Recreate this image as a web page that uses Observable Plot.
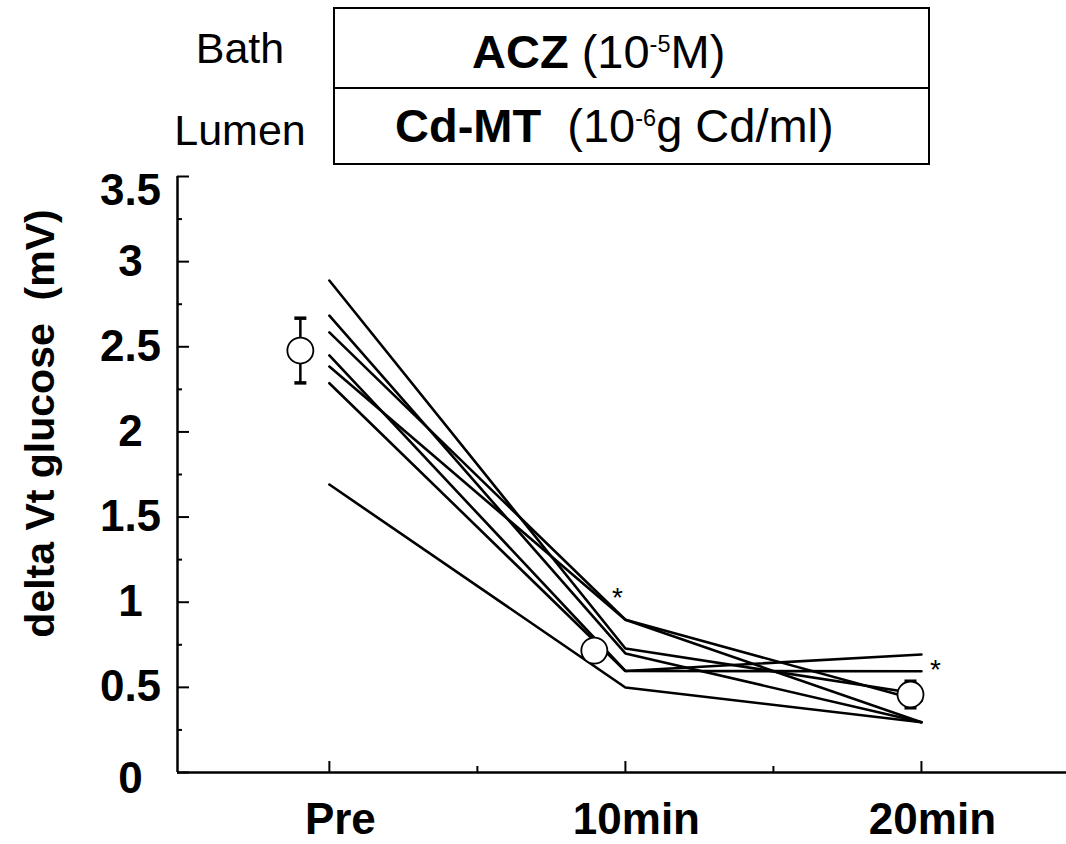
<!DOCTYPE html>
<html>
<head>
<meta charset="utf-8">
<script src="https://cdn.jsdelivr.net/npm/d3@7"></script>
<script src="https://cdn.jsdelivr.net/npm/@observablehq/plot@0.6"></script>
<style>
  body { margin: 0; background: #fff; font-family: "Liberation Sans", Arial, sans-serif; color: #000; }
  #wrap { width: 1066px; }
  #header { position: relative; width: 1066px; height: 165px; }
  .side { position: absolute; left: 150px; width: 180px; text-align: center; font-size: 43px; line-height: 1; }
  .box { position: absolute; left: 333px; width: 597px; border: 2px solid #000; box-sizing: border-box; }
  .boxtext { position: absolute; font-size: 47px; line-height: 1; white-space: nowrap; }
  .sup { font-size: 0.5em; vertical-align: 0.68em; }
  #chart svg { display: block; }
</style>
</head>
<body>
<div id="wrap">
  <div id="header">
    <div class="box" style="top:7px;height:82px;"></div>
    <div class="box" style="top:87px;height:78px;"></div>
    <div class="side" style="top:27px;">Bath</div>
    <div class="side" style="top:109px;">Lumen</div>
    <div class="boxtext" style="left:472px;top:28px;"><b>ACZ</b> (10<span class="sup">-5</span>M)</div>
    <div class="boxtext" style="left:395px;top:102px;"><b>Cd-MT</b>&nbsp; (10<span class="sup">-6</span>g Cd/ml)</div>
  </div>
  <div id="chart"></div>
</div>
<script>
// ---- data ----
const timeLabels = ["Pre", "10min", "20min"];
const timeIndex = [0, 1, 2];
const preValues   = [2.889, 2.683, 2.585, 2.449, 2.384, 2.286, 1.691];
const min10Values = [0.728, 0.699, 0.897, 0.596, 0.897, 0.596, 0.499];
const min20Values = [0.460, 0.295, 0.420, 0.693, 0.295, 0.595, 0.295];
const meanTime   = [-0.098, 0.895, 1.963];
const meanValues = [2.478, 0.716, 0.458];
const semValues  = [0.19, 0.04, 0.078];
const yTicks = [0, 0.5, 1, 1.5, 2, 2.5, 3, 3.5];
const yAxisLabel = "delta Vt glucose\u00a0 (mV)";
const starMark = "*";

// ---- tables built from the arrays ----
const seriesByTime = [preValues, min10Values, min20Values];
const lineRows = [];
preValues.forEach((_, id) => {
  timeIndex.forEach((t, k) => lineRows.push({id, t, v: seriesByTime[k][id]}));
});
const meanRows = meanValues.map((v, i) => ({t: meanTime[i], v, lo: v - semValues[i], hi: v + semValues[i]}));
const capRows = meanRows.flatMap(d => [{t: d.t, v: d.lo}, {t: d.t, v: d.hi}]);
const star10 = [{t: timeIndex[1], v: d3.max(min10Values)}];
const star20 = [{t: timeIndex[2], v: d3.max(min20Values)}];

const xDomain = [-0.513, 2.49];
const yDomain = [0, 3.5];
const yMinor = d3.range(0.25, 3.5, 0.5);
const xMinor = [0.5, 1.5];

const capSymbol = { draw(ctx) { ctx.moveTo(-6, 0); ctx.lineTo(6, 0); } };
const bold = "bold";

const chart = Plot.plot({
  width: 1066,
  height: 679,
  marginTop: 11,
  marginBottom: 72,
  marginLeft: 177,
  marginRight: 0,
  style: {fontFamily: "'Liberation Sans', Arial, sans-serif", color: "black", background: "white", overflow: "visible"},
  x: {domain: xDomain, axis: null},
  y: {domain: yDomain, axis: null},
  marks: [
    // axis lines
    Plot.ruleY([0], {stroke: "black", strokeWidth: 2.5}),
    Plot.ruleX([xDomain[0]], {y1: yDomain[0], y2: yDomain[1], stroke: "black", strokeWidth: 2.5}),
    // x ticks (inward)
    Plot.axisX({ticks: timeIndex, tickSize: -11, tickFormat: () => "", strokeWidth: 2, label: null}),
    Plot.axisX({ticks: xMinor, tickSize: -6, tickFormat: () => "", strokeWidth: 2, label: null}),
    Plot.axisX({ticks: timeIndex, tickSize: 0, tickPadding: 30, tickFormat: d => timeLabels[d],
                fontSize: 44, fontWeight: bold, dx: 11, label: null}),
    // y ticks (inward)
    Plot.axisY({ticks: yTicks, tickSize: -12, tickFormat: () => "", strokeWidth: 2, label: null}),
    Plot.axisY({ticks: yMinor, tickSize: -5, tickFormat: () => "", strokeWidth: 2, label: null}),
    Plot.axisY({ticks: yTicks.filter(d => d > 0 && d < 3.5), tickSize: 0, tickPadding: 47, tickFormat: String,
                textAnchor: "middle", fontSize: 44, fontWeight: bold, label: null}),
    Plot.axisY({ticks: [yTicks[yTicks.length - 1]], tickSize: 0, tickPadding: 47, tickFormat: String,
                textAnchor: "middle", fontSize: 44, fontWeight: bold, dy: 14, label: null}),
    Plot.axisY({ticks: [yTicks[0]], tickSize: 0, tickPadding: 47, tickFormat: String,
                textAnchor: "middle", fontSize: 44, fontWeight: bold, dy: 6, label: null}),
    // y axis title
    Plot.text([yAxisLabel], {frameAnchor: "left", text: d => d, rotate: -90, textAnchor: "middle",
                dx: -137, dy: -51, fontSize: 41, fontWeight: bold, fill: "black"}),
    // individual lines
    Plot.line(lineRows, {x: "t", y: "v", z: "id", stroke: "black", strokeWidth: 2.6, strokeLinejoin: "miter"}),
    // mean ± SE
    Plot.ruleX(meanRows, {x: "t", y1: "lo", y2: "hi", stroke: "black", strokeWidth: 2.5}),
    Plot.dot(capRows, {x: "t", y: "v", symbol: capSymbol, r: 6, stroke: "black", strokeWidth: 3.5, fill: "none"}),
    Plot.dot(meanRows, {x: "t", y: "v", r: 13, fill: "white", stroke: "black", strokeWidth: 1.8}),
    // significance marks
    Plot.text(star10, {x: "t", y: "v", text: () => starMark, fontSize: 28, dx: -8, dy: -22, fill: "black"}),
    Plot.text(star20, {x: "t", y: "v", text: () => starMark, fontSize: 28, dx: 14, dy: 16, fill: "black"})
  ]
});
document.getElementById("chart").appendChild(chart);
</script>
</body>
</html>
